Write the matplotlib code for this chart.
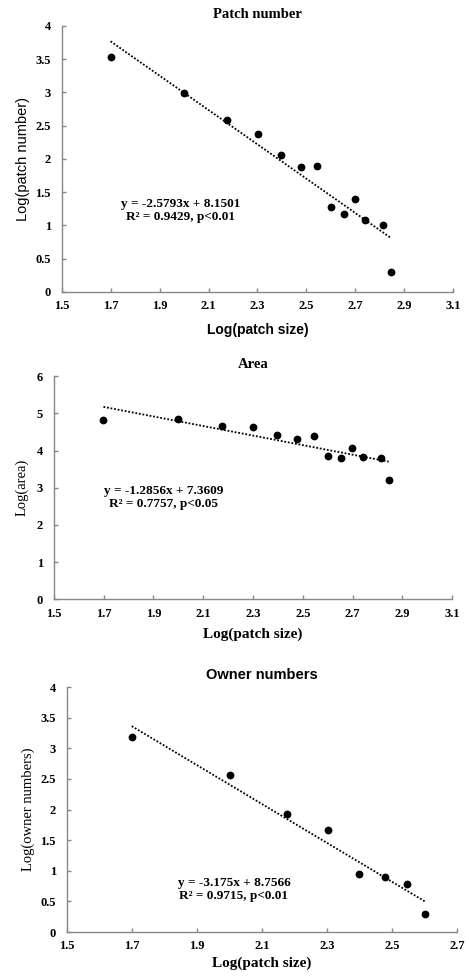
import numpy as np
import matplotlib.pyplot as plt

# log10 of patch size classes
patch_size = [1.699, 2.0, 2.176, 2.301, 2.398, 2.477, 2.544, 2.602, 2.653, 2.699, 2.740, 2.813, 2.845]
patch_number = [3.53, 2.99, 2.58, 2.38, 2.06, 1.87, 1.89, 1.27, 1.17, 1.40, 1.08, 1.00, 0.30]
area = [4.82, 4.86, 4.67, 4.63, 4.43, 4.32, 4.40, 3.86, 3.80, 4.08, 3.82, 3.80, 3.20]

owner_size = [1.699, 2.0, 2.176, 2.301, 2.398, 2.477, 2.544, 2.602]
owner_numbers = [3.18, 2.56, 1.93, 1.66, 0.95, 0.90, 0.78, 0.30]

# trend line coefficients (slope, intercept) as printed on the chart
fit_patch = (-2.5793, 8.1501)
fit_area = (-1.2856, 7.3609)
fit_owner = (-3.175, 8.7566)

eq_patch = ["y = -2.5793x + 8.1501", "R² = 0.9429, p<0.01"]
eq_area = ["y = -1.2856x + 7.3609", "R² = 0.7757, p<0.05"]
eq_owner = ["y = -3.175x + 8.7566", "R² = 0.9715, p<0.01"]

SERIF = "Liberation Serif"
SANS = "Liberation Sans"

fig = plt.figure(figsize=(4.69, 9.76), dpi=100)


def panel(rect, x, y, fit, eq, eq_pos, xlim, xticks, ylim, yticks,
          title, title_font, ylabel, ylabel_font, xlabel_font, ylabel_pad, xlabel_pad):
    ax = fig.add_axes(rect)
    xs = np.array([x[0], x[-1]])
    ax.plot(xs, fit[0] * xs + fit[1], color="black", linestyle=(0, (1, 1)), lw=1.3)
    ax.plot(x, y, "o", color="black", markersize=4.6)
    ax.set_xlim(*xlim)
    ax.set_ylim(*ylim)
    ax.set_xticks(xticks)
    ax.set_yticks(yticks)
    ax.set_xticklabels([f"{t:g}" for t in xticks], fontfamily=SERIF, fontweight="bold", fontsize=9)
    ax.set_yticklabels([f"{t:g}" for t in yticks], fontfamily=SERIF, fontweight="bold", fontsize=9)
    for s in ["top", "right"]:
        ax.spines[s].set_visible(False)
    for s in ["left", "bottom"]:
        ax.spines[s].set_color("#888888")
        ax.spines[s].set_linewidth(1.0)
    ax.tick_params(direction="in", length=3, width=1, color="#888888")
    ax.tick_params(axis="x", pad=6)
    ax.tick_params(axis="y", pad=8)
    ax.set_title(title, fontfamily=title_font, fontweight="bold", fontsize=10.5, pad=6)
    ax.set_ylabel(ylabel, fontfamily=ylabel_font, fontsize=10.5, labelpad=ylabel_pad)
    xfs = 10 if xlabel_font == SANS else 11
    ax.set_xlabel("Log(patch size)", fontfamily=xlabel_font, fontweight="bold", fontsize=xfs,
                  labelpad=xlabel_pad)
    ax.text(eq_pos[0], eq_pos[1], eq[0] + "\n" + eq[1], ha="center", va="center",
            fontfamily=SERIF, fontweight="bold", fontsize=9.5, linespacing=1.1)
    return ax


panel([0.132, 0.701, 0.834, 0.2725], patch_size, patch_number, fit_patch, eq_patch,
      (1.985, 1.22), (1.5, 3.1), np.round(np.arange(1.5, 3.11, 0.2), 1),
      (0, 4), np.arange(0, 4.01, 0.5), "Patch number", SERIF,
      "Log(patch number)", SANS, SANS, 4, 8)

panel([0.115, 0.386, 0.849, 0.2285], patch_size, area, fit_area, eq_area,
      (1.94, 2.74), (1.5, 3.1), np.round(np.arange(1.5, 3.11, 0.2), 1),
      (0, 6), np.arange(0, 6.01, 1), "Area", SERIF,
      "Log(area)", SERIF, SERIF, 6, 6)

panel([0.143, 0.045, 0.832, 0.251], owner_size, owner_numbers, fit_owner, eq_owner,
      (2.013, 0.70), (1.5, 2.7), np.round(np.arange(1.5, 2.71, 0.2), 1),
      (0, 4), np.arange(0, 4.01, 0.5), "Owner numbers", SANS,
      "Log(owner numbers)", SERIF, SERIF, 4, 3)

fig.savefig("out.png", dpi=100)
